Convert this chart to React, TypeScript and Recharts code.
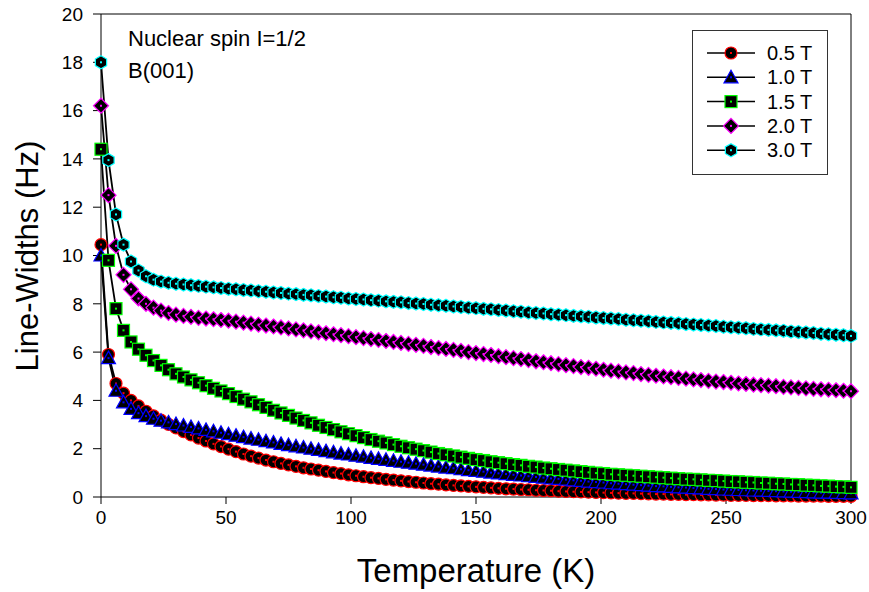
import React from 'react';
import { LineChart, Line, XAxis, YAxis, ReferenceLine } from 'recharts';

// Temperature grid (K)
const temps = [
  0, 3, 6, 9, 12, 15, 18, 21, 24, 27, 30, 33, 36, 39, 42, 45, 48, 51, 54, 57,
  60, 63, 66, 69, 72, 75, 78, 81, 84, 87, 90, 93, 96, 99, 102, 105, 108, 111, 114, 117,
  120, 123, 126, 129, 132, 135, 138, 141, 144, 147, 150, 153, 156, 159, 162, 165, 168, 171, 174, 177,
  180, 183, 186, 189, 192, 195, 198, 201, 204, 207, 210, 213, 216, 219, 222, 225, 228, 231, 234, 237,
  240, 243, 246, 249, 252, 255, 258, 261, 264, 267, 270, 273, 276, 279, 282, 285, 288, 291, 294, 297, 300,
];

// Line widths (Hz) per field
const b05 = [
  10.45, 5.9, 4.7, 4.3, 4.0, 3.77, 3.55, 3.36, 3.18, 3.01, 2.86, 2.71, 2.57, 2.44, 2.32, 2.2, 2.09, 1.98, 1.88, 1.78,
  1.69, 1.61, 1.53, 1.46, 1.39, 1.33, 1.27, 1.21, 1.16, 1.11, 1.06, 1.01, 0.97, 0.92, 0.88, 0.84, 0.8, 0.77, 0.73, 0.7,
  0.67, 0.64, 0.61, 0.58, 0.55, 0.53, 0.5, 0.48, 0.46, 0.44, 0.42, 0.4, 0.38, 0.36, 0.34, 0.33, 0.31, 0.3, 0.28, 0.27,
  0.26, 0.24, 0.23, 0.22, 0.21, 0.2, 0.19, 0.18, 0.17, 0.16, 0.15, 0.15, 0.14, 0.13, 0.12, 0.12, 0.11, 0.11, 0.1, 0.1,
  0.09, 0.09, 0.08, 0.08, 0.07, 0.07, 0.07, 0.06, 0.06, 0.06, 0.05, 0.05, 0.05, 0.04, 0.04, 0.04, 0.04, 0.03, 0.03, 0.03, 0.03,
];
const b10 = [
  10.0, 5.75, 4.4, 3.92, 3.65, 3.47, 3.35, 3.24, 3.16, 3.09, 3.02, 2.96, 2.9, 2.84, 2.78, 2.72, 2.66, 2.6, 2.54, 2.48,
  2.42, 2.37, 2.31, 2.26, 2.2, 2.15, 2.1, 2.05, 2.0, 1.95, 1.9, 1.85, 1.8, 1.76, 1.71, 1.67, 1.62, 1.58, 1.54, 1.5,
  1.46, 1.42, 1.38, 1.34, 1.3, 1.26, 1.22, 1.19, 1.15, 1.11, 1.08, 1.05, 1.01, 0.98, 0.95, 0.92, 0.89, 0.86, 0.83, 0.8,
  0.77, 0.75, 0.72, 0.69, 0.67, 0.64, 0.62, 0.6, 0.57, 0.55, 0.53, 0.51, 0.49, 0.47, 0.45, 0.44, 0.42, 0.4, 0.39, 0.37,
  0.36, 0.34, 0.33, 0.31, 0.3, 0.29, 0.28, 0.27, 0.26, 0.25, 0.24, 0.23, 0.22, 0.21, 0.2, 0.19, 0.18, 0.18, 0.17, 0.16, 0.15,
];
const b15 = [
  14.4, 9.8, 7.8, 6.9, 6.42, 6.12, 5.87, 5.65, 5.45, 5.27, 5.1, 4.97, 4.85, 4.73, 4.61, 4.5, 4.39, 4.28, 4.16, 4.05,
  3.94, 3.82, 3.71, 3.59, 3.48, 3.38, 3.27, 3.17, 3.07, 2.97, 2.88, 2.79, 2.7, 2.62, 2.54, 2.46, 2.38, 2.31, 2.24, 2.17,
  2.1, 2.04, 1.98, 1.92, 1.86, 1.8, 1.75, 1.7, 1.65, 1.6, 1.55, 1.51, 1.46, 1.42, 1.38, 1.34, 1.31, 1.27, 1.24, 1.2,
  1.17, 1.14, 1.11, 1.08, 1.05, 1.02, 0.99, 0.97, 0.94, 0.92, 0.9, 0.88, 0.86, 0.84, 0.82, 0.8, 0.78, 0.76, 0.74, 0.73,
  0.71, 0.69, 0.68, 0.66, 0.64, 0.63, 0.61, 0.6, 0.58, 0.57, 0.55, 0.54, 0.52, 0.51, 0.49, 0.48, 0.46, 0.45, 0.43, 0.42, 0.4,
];
const b20 = [
  16.2, 12.5, 10.4, 9.2, 8.6, 8.22, 8.0, 7.84, 7.72, 7.62, 7.55, 7.5, 7.46, 7.42, 7.39, 7.36, 7.33, 7.3, 7.26, 7.22,
  7.18, 7.14, 7.1, 7.06, 7.02, 6.98, 6.94, 6.9, 6.86, 6.82, 6.78, 6.74, 6.7, 6.66, 6.62, 6.58, 6.54, 6.5, 6.46, 6.42,
  6.38, 6.34, 6.3, 6.26, 6.21, 6.17, 6.13, 6.09, 6.05, 6.0, 5.96, 5.92, 5.88, 5.83, 5.79, 5.75, 5.71, 5.67, 5.62, 5.58,
  5.54, 5.5, 5.46, 5.42, 5.38, 5.35, 5.31, 5.27, 5.23, 5.2, 5.16, 5.13, 5.09, 5.06, 5.02, 4.99, 4.96, 4.93, 4.9, 4.87,
  4.84, 4.81, 4.78, 4.76, 4.73, 4.7, 4.68, 4.65, 4.63, 4.61, 4.59, 4.56, 4.54, 4.52, 4.5, 4.48, 4.46, 4.44, 4.42, 4.4, 4.38,
];
const b30 = [
  18.0, 13.95, 11.7, 10.45, 9.75, 9.38, 9.14, 9.0, 8.92, 8.87, 8.83, 8.8, 8.77, 8.74, 8.71, 8.68, 8.65, 8.62, 8.6, 8.57,
  8.55, 8.52, 8.5, 8.47, 8.45, 8.42, 8.4, 8.37, 8.35, 8.32, 8.3, 8.27, 8.25, 8.22, 8.2, 8.18, 8.15, 8.13, 8.1, 8.08,
  8.06, 8.03, 8.01, 7.99, 7.96, 7.94, 7.92, 7.89, 7.87, 7.84, 7.82, 7.79, 7.77, 7.74, 7.72, 7.69, 7.67, 7.64, 7.62, 7.6,
  7.57, 7.55, 7.53, 7.5, 7.48, 7.46, 7.43, 7.41, 7.39, 7.37, 7.34, 7.32, 7.3, 7.28, 7.25, 7.23, 7.21, 7.19, 7.16, 7.14,
  7.12, 7.1, 7.08, 7.05, 7.03, 7.01, 6.99, 6.96, 6.94, 6.92, 6.9, 6.88, 6.85, 6.83, 6.81, 6.79, 6.76, 6.74, 6.72, 6.7, 6.67,
];

const xTicks = [0, 50, 100, 150, 200, 250, 300];
const yTicks = [0, 2, 4, 6, 8, 10, 12, 14, 16, 18, 20];

const series = [
  { key: 'b05', name: '0.5 T', color: '#ff0000', shape: 'circle', values: b05 },
  { key: 'b10', name: '1.0 T', color: '#0000ff', shape: 'triangle', values: b10 },
  { key: 'b15', name: '1.5 T', color: '#00ff00', shape: 'square', values: b15 },
  { key: 'b20', name: '2.0 T', color: '#ff00ff', shape: 'diamond', values: b20 },
  { key: 'b30', name: '3.0 T', color: '#00ffff', shape: 'hexagon', values: b30 },
];

const chartData = temps.map((t, i) => {
  const row: Record<string, number> = { t };
  series.forEach((s) => { row[s.key] = s.values[i]; });
  return row;
});

const FONT = '"Liberation Sans", Arial, sans-serif';

const Marker = ({ cx, cy, shape, color }: { cx?: number; cy?: number; shape: string; color: string }) => {
  if (cx == null || cy == null) return null;
  const sw = 1.2;
  let body: React.ReactNode = null;
  if (shape === 'circle') {
    body = <circle cx={cx} cy={cy} r={6} fill="#000" stroke={color} strokeWidth={sw} />;
  } else if (shape === 'triangle') {
    body = <polygon points={`${cx},${cy - 7} ${cx + 7},${cy + 5.5} ${cx - 7},${cy + 5.5}`} fill="#000" stroke={color} strokeWidth={sw} />;
  } else if (shape === 'square') {
    body = <rect x={cx - 6} y={cy - 6} width={12} height={12} fill="#000" stroke={color} strokeWidth={sw} />;
  } else if (shape === 'diamond') {
    body = <polygon points={`${cx},${cy - 7.5} ${cx + 7.5},${cy} ${cx},${cy + 7.5} ${cx - 7.5},${cy}`} fill="#000" stroke={color} strokeWidth={sw} />;
  } else {
    const r = 6.5;
    const pts = [0, 1, 2, 3, 4, 5]
      .map((k) => {
        const a = (Math.PI / 3) * k - Math.PI / 2;
        return `${cx + r * Math.cos(a)},${cy + r * Math.sin(a)}`;
      })
      .join(' ');
    body = <polygon points={pts} fill="#000" stroke={color} strokeWidth={sw} />;
  }
  return (
    <g>
      {body}
      <rect x={cx - 1} y={cy - 1} width={2} height={2} fill={color} />
    </g>
  );
};

const LegendBox = () => (
  <div
    style={{
      position: 'absolute',
      left: 692,
      top: 30,
      width: 136,
      height: 145,
      border: '1px solid #333',
      boxSizing: 'border-box',
      background: '#fff',
    }}
  >
    <svg width={134} height={143}>
      {series.map((s, i) => {
        const y = 22 + i * 24.3;
        return (
          <g key={s.key}>
            <line x1={14} x2={62} y1={y} y2={y} stroke="#000" strokeWidth={1.5} />
            <Marker cx={38} cy={y} shape={s.shape} color={s.color} />
            <text x={74} y={y} dominantBaseline="central" fontSize={20} fontFamily={FONT} fill="#000">
              {s.name}
            </text>
          </g>
        );
      })}
    </svg>
  </div>
);

export default function App() {
  return (
    <div style={{ position: 'absolute', left: 0, top: 0, width: 869, height: 592, background: '#fff', fontFamily: FONT }}>
      <LineChart width={869} height={592} data={chartData} margin={{ top: 14, right: 18, bottom: 0, left: 0 }}>
        <XAxis
          dataKey="t"
          type="number"
          domain={[0, 300]}
          ticks={xTicks}
          height={95}
          tickSize={7}
          tickMargin={7}
          stroke="#000"
          tick={{ fontSize: 19, fill: '#000', fontFamily: FONT }}
          label={() => (
            <text x={476} y={582} textAnchor="middle" fontSize={33} fontFamily={FONT} fill="#000">
              Temperature (K)
            </text>
          )}
        />
        <YAxis
          type="number"
          domain={[0, 20]}
          ticks={yTicks}
          width={101}
          tickSize={8}
          tickMargin={10}
          stroke="#000"
          tick={{ fontSize: 19, fill: '#000', fontFamily: FONT }}
          label={() => (
            <text
              x={27}
              y={256}
              transform="rotate(-90 27 256)"
              textAnchor="middle"
              dominantBaseline="central"
              fontSize={31}
              fontFamily={FONT}
              fill="#000"
            >
              Line-Widths (Hz)
            </text>
          )}
        />
        <ReferenceLine y={20} stroke="#000" strokeWidth={1} />
        <ReferenceLine x={300} stroke="#000" strokeWidth={1} />
        {series.map((s) => (
          <Line
            key={s.key}
            dataKey={s.key}
            name={s.name}
            type="linear"
            stroke="#000"
            strokeWidth={1.8}
            isAnimationActive={false}
            activeDot={false}
            dot={(p: any) => <Marker key={`${s.key}-${p.index}`} cx={p.cx} cy={p.cy} shape={s.shape} color={s.color} />}
          />
        ))}
      </LineChart>
      <div style={{ position: 'absolute', left: 128, top: 23, fontSize: 22, lineHeight: '32px', color: '#000' }}>
        Nuclear spin I=1/2
        <br />
        B(001)
      </div>
      <LegendBox />
    </div>
  );
}
